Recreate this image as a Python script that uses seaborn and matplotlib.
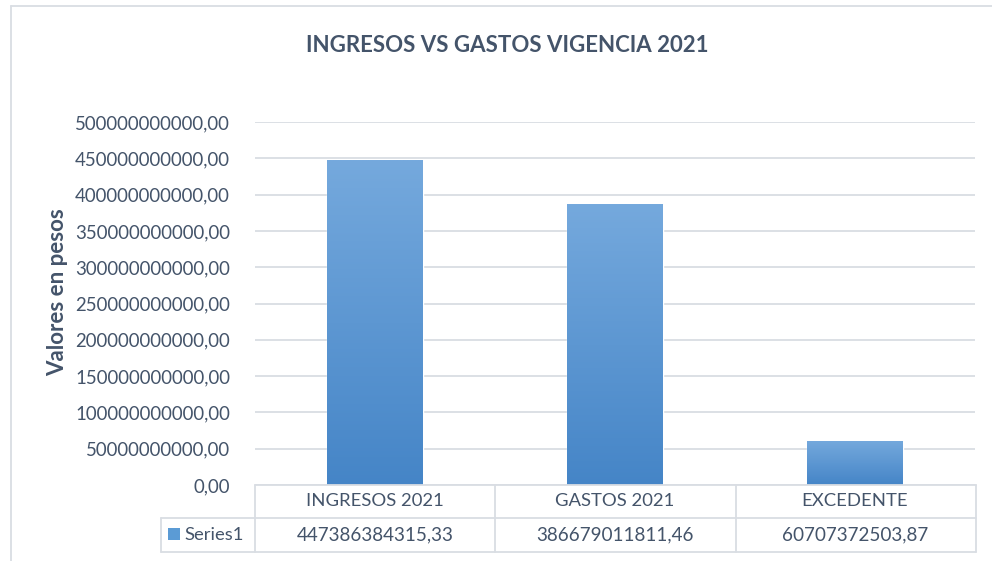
import numpy as np
import pandas as pd
import matplotlib
matplotlib.use('Agg')
import matplotlib.pyplot as plt
import matplotlib.transforms as mtransforms
from matplotlib.colors import LinearSegmentedColormap
from matplotlib.patches import Rectangle
import seaborn as sns

# Data
categories = ['INGRESOS 2021', 'GASTOS 2021', 'EXCEDENTE']
values = [447386384315.33, 386679011811.46, 60707372503.87]
series_name = 'Series1'
y_ticks = np.arange(0, 500e9 + 1, 50e9)

TEXT = '#44546a'
GRID = '#d9dde3'

sns.set_theme(style='white')
plt.rcParams['font.family'] = ['Lato', 'DejaVu Sans']

W, H = 992, 561
fig = plt.figure(figsize=(W / 100, H / 100), dpi=100)


def fx(px):
    return px / W


def fy(py):
    return 1 - py / H


ax = fig.add_axes([fx(255), fy(485), fx(975) - fx(255), fy(122) - fy(485)])

df = pd.DataFrame({'cat': categories, 'val': values})
sns.barplot(data=df, x='cat', y='val', ax=ax, color='#5b9bd5',
            width=0.4, saturation=1)

# gradient fill on the bars
grad = LinearSegmentedColormap.from_list('g', ['#4585c7', '#75a9dd'])
img = np.linspace(0, 1, 256).reshape(-1, 1)
for p in ax.patches:
    x0, y0 = p.get_x(), p.get_y()
    im = ax.imshow(img, cmap=grad, origin='lower', aspect='auto',
                   extent=[x0, x0 + p.get_width(), y0, y0 + p.get_height()],
                   zorder=p.get_zorder() + 0.1)
    im.set_clip_path(p)
ax.set_xlim(-0.5, len(categories) - 0.5)
ax.set_ylim(0, 500e9)

ax.set_yticks(y_ticks)
ax.set_yticklabels([f'{v:.2f}'.replace('.', ',') for v in y_ticks],
                   fontsize=13.4, color=TEXT)
ax.tick_params(axis='y', length=0, pad=18)
ax.set_xticks([])
ax.set_xlabel('')
ax.set_ylabel('')

ax.grid(axis='y', color=GRID, lw=1.3)
ax.set_axisbelow(True)
for s in ax.spines.values():
    s.set_visible(False)

fig.text(fx(58), fy(292), 'Valores en pesos', rotation=90, ha='center',
         va='center', fontsize=16, fontweight='bold', color=TEXT)

# data table below the plot
line_kw = dict(color=GRID, lw=1.3, transform=fig.transFigure)
y_top, y_mid, y_bot = fy(485), fy(518), fy(552)
x_edges = [fx(255), fx(495), fx(736), fx(976)]
fig.add_artist(plt.Line2D([fx(255), fx(976)], [y_top, y_top], **line_kw))
fig.add_artist(plt.Line2D([fx(161), fx(976)], [y_mid, y_mid], **line_kw))
fig.add_artist(plt.Line2D([fx(161), fx(976)], [y_bot, y_bot], **line_kw))
fig.add_artist(plt.Line2D([fx(161), fx(161)], [y_mid, y_bot], **line_kw))
for xe in x_edges:
    fig.add_artist(plt.Line2D([xe, xe], [y_top, y_bot], **line_kw))

trans = mtransforms.blended_transform_factory(ax.transData, fig.transFigure)
for i, (c, v) in enumerate(zip(categories, values)):
    ax.text(i, (y_top + y_mid) / 2, c, transform=trans, ha='center',
            va='center', fontsize=13.3, color=TEXT, clip_on=False)
    ax.text(i, (y_mid + y_bot) / 2, f'{v:.2f}'.replace('.', ','),
            transform=trans, ha='center', va='center', fontsize=13.6,
            color=TEXT, clip_on=False)

fig.add_artist(Rectangle((fx(168), fy(540)), fx(12), fy(528) - fy(540),
                         transform=fig.transFigure, facecolor='#5b9bd5',
                         edgecolor='none'))
fig.text(fx(184), (y_mid + y_bot) / 2, series_name, ha='left', va='center',
         fontsize=13.3, color=TEXT)

# chart title
fig.text(fx(507), fy(45), 'INGRESOS VS GASTOS VIGENCIA 2021', ha='center',
         va='center', fontsize=16, fontweight='bold', color=TEXT)

# chart area frame (top and left edges visible)
fig.add_artist(plt.Line2D([fx(11), 1], [fy(6), fy(6)], **line_kw))
fig.add_artist(plt.Line2D([fx(11), fx(11)], [fy(6), 0], **line_kw))

fig.savefig('out.png', dpi=100)
